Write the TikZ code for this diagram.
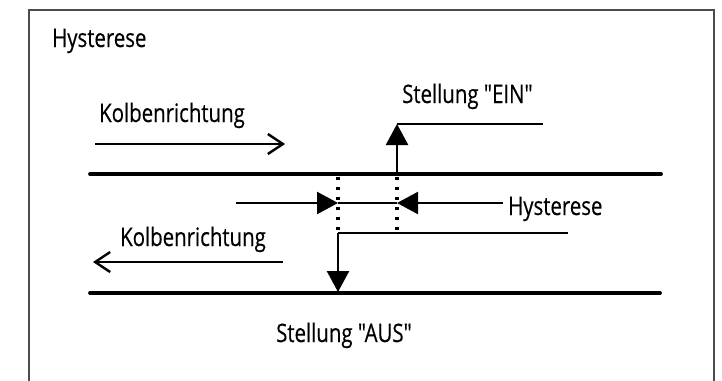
\documentclass[tikz,border=0pt]{standalone}
\usepackage{fontspec}
\newfontfamily\lblfont{Open Sans}[FakeStretch=0.8,FakeBold=0.4]
\usetikzlibrary{arrows.meta}
\begin{document}
\begin{tikzpicture}[x=1pt,y=-1pt,
  lbl/.style={anchor=base west, inner sep=0pt, font=\lblfont\fontsize{25.5}{28}\selectfont},
  frameline/.style={draw=black!70, line width=1.8pt},
  railline/.style={line width=3.8pt, line cap=round},
  stepline/.style={line width=2.6pt},
  dirarrow/.style={line width=2.6pt, -{Straight Barb[length=15pt,width=20pt,line width=2.4pt]}},
  fillarrow/.style={line width=2.4pt, -{Triangle[length=21pt,width=22pt]}},
  dotline/.style={line width=3.4pt, dash pattern=on 3.2pt off 6.8pt}
]
\useasboundingbox (0,0) rectangle (722,380);
\draw[frameline] (29,382) -- (29,10) -- (714,10) -- (714,382);

% text
\node[lbl] (title) at (52,47) {Hysterese};
\node[lbl] (k1) at (99,122) {Kolbenrichtung};
\node[lbl] (ein) at (402,103) {Stellung "EIN"};
\node[lbl] (k2) at (120,246) {Kolbenrichtung};
\node[lbl] (hys) at (508,215) {Hysterese};
\node[lbl] (aus) at (276,342) {Stellung "AUS"};

% coordinates
\coordinate (t1) at (90,174);  \coordinate (t2) at (661,174);
\coordinate (b1) at (90,293);  \coordinate (b2) at (660,293);
\coordinate (ra1) at (95,144); \coordinate (ra2) at (285,144);
\coordinate (la1) at (283,262); \coordinate (la2) at (93,262);
\coordinate (u0) at (397,174); \coordinate (u1) at (397,124); \coordinate (u2) at (543,124);
\coordinate (d0) at (338,233); \coordinate (d1) at (338,292); \coordinate (d2) at (568,233);
\coordinate (dl0) at (338,177); \coordinate (dr0) at (397,177); \coordinate (dr1) at (397,233);
\coordinate (h1) at (236,203); \coordinate (h2) at (338,203);
\coordinate (h3) at (503,203); \coordinate (h4) at (397,203);

% rails
\draw[railline] (t1) -- (t2);
\draw[railline] (b1) -- (b2);

% direction arrows
\draw[dirarrow] (ra1) -- (ra2);
\draw[dirarrow] (la1) -- (la2);

% switching steps
\draw[fillarrow] (u0) -- (u1);
\draw[stepline] (u1) -- (u2);
\draw[stepline] (d2) -- (d0);
\draw[fillarrow] (d0) -- (d1);

% dotted markers
\draw[dotline] (dl0) -- (d0);
\draw[dotline] (dr0) -- (dr1);

% hysteresis
\draw[fillarrow] (h1) -- (h2);
\draw[fillarrow] (h3) -- (h4);
\draw[line width=2.2pt] (h2) -- (h4);
\end{tikzpicture}
\end{document}
